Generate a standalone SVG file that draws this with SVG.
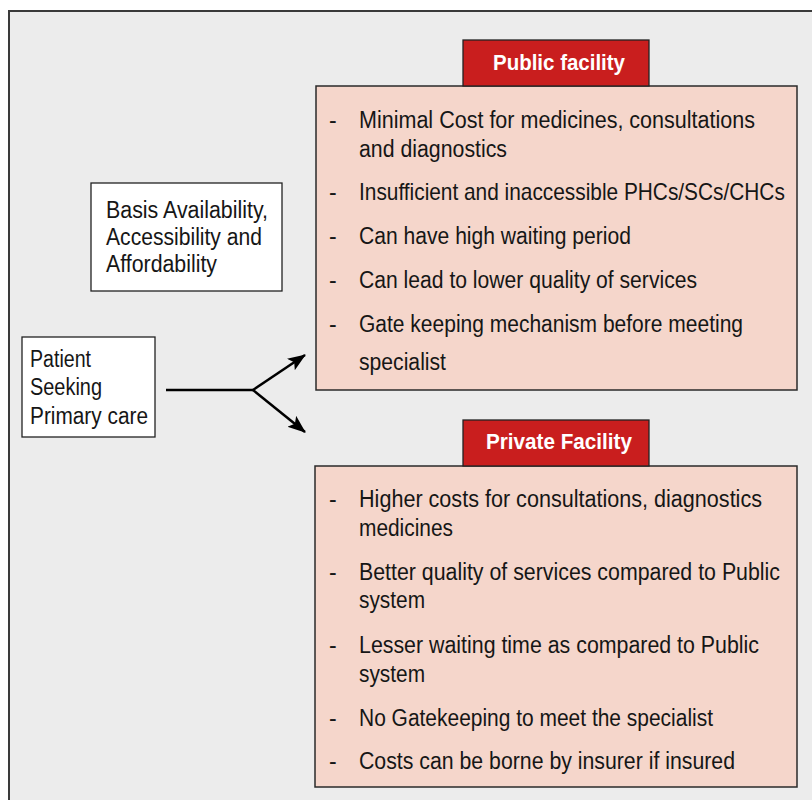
<svg xmlns="http://www.w3.org/2000/svg" width="812" height="800" viewBox="0 0 812 800">
<style>
.frame{fill:#ececec;stroke:#3a3a3a;stroke-width:2}
.wbox{fill:#ffffff;stroke:#222;stroke-width:1.3}
.pbox{fill:#f5d6cb;stroke:#2a2a2a;stroke-width:1.5}
.hdr{fill:#c91e1e;stroke:#222;stroke-width:1.3}
.t{font-family:"Liberation Sans",Arial,sans-serif;font-size:23px;fill:#161616}
.h{font-family:"Liberation Sans",Arial,sans-serif;font-size:22px;font-weight:bold;fill:#ffffff}
.conn{stroke:#000;stroke-width:2.5;fill:none}
</style>
<defs>
<marker id="ah" markerUnits="userSpaceOnUse" markerWidth="20" markerHeight="16" refX="17" refY="7" orient="auto">
<path d="M0,0 L18,7 L0,14 L4,7 Z" fill="#000"/>
</marker>
</defs>
<rect class="frame" x="9" y="11" width="820" height="810"/>

<g id="basis">
<rect class="wbox" x="91" y="183" width="191" height="108"/>
<text class="t" x="106" y="218" textLength="162" lengthAdjust="spacingAndGlyphs">Basis Availability,</text>
<text class="t" x="106" y="245" textLength="156" lengthAdjust="spacingAndGlyphs">Accessibility and</text>
<text class="t" x="106" y="272" textLength="111" lengthAdjust="spacingAndGlyphs">Affordability</text>
</g>

<g id="patient">
<rect class="wbox" x="22" y="337" width="133" height="100"/>
<text class="t" x="30" y="367" textLength="61" lengthAdjust="spacingAndGlyphs">Patient</text>
<text class="t" x="30" y="395" textLength="72" lengthAdjust="spacingAndGlyphs">Seeking</text>
<text class="t" x="30" y="424" textLength="118" lengthAdjust="spacingAndGlyphs">Primary care</text>
</g>

<g id="connectors">
<path class="conn" d="M166,390 L253,390"/>
<path class="conn" d="M253,390 L305,355" marker-end="url(#ah)"/>
<path class="conn" d="M253,390 L305,432" marker-end="url(#ah)"/>
</g>

<g id="public">
<rect class="pbox" x="316" y="86" width="481" height="304"/>
<rect class="hdr" x="463" y="40" width="186" height="46"/>
<text class="h" x="493" y="70" textLength="132" lengthAdjust="spacingAndGlyphs">Public facility</text>
<text class="t" x="329" y="128">-</text>
<text class="t" x="359" y="128" textLength="396" lengthAdjust="spacingAndGlyphs">Minimal Cost for medicines, consultations</text>
<text class="t" x="359" y="157" textLength="148" lengthAdjust="spacingAndGlyphs">and diagnostics</text>
<text class="t" x="329" y="200">-</text>
<text class="t" transform="matrix(0.85 0 0 1 359 200)" x="0" y="0" textLength="501" lengthAdjust="spacingAndGlyphs">Insufficient and inaccessible PHCs/SCs/CHCs</text>
<text class="t" x="329" y="244">-</text>
<text class="t" x="359" y="244" textLength="272" lengthAdjust="spacingAndGlyphs">Can have high waiting period</text>
<text class="t" x="329" y="288">-</text>
<text class="t" x="359" y="288" textLength="338" lengthAdjust="spacingAndGlyphs">Can lead to lower quality of services</text>
<text class="t" x="329" y="332">-</text>
<text class="t" x="359" y="332" textLength="384" lengthAdjust="spacingAndGlyphs">Gate keeping mechanism before meeting</text>
<text class="t" x="359" y="370" textLength="87" lengthAdjust="spacingAndGlyphs">specialist</text>
</g>

<g id="private">
<rect class="pbox" x="315" y="466" width="482" height="321"/>
<rect class="hdr" x="463" y="420" width="186" height="46"/>
<text class="h" x="486" y="449" textLength="146" lengthAdjust="spacingAndGlyphs">Private Facility</text>
<text class="t" x="329" y="507">-</text>
<text class="t" x="359" y="507" textLength="403" lengthAdjust="spacingAndGlyphs">Higher costs for consultations, diagnostics</text>
<text class="t" x="359" y="536" textLength="94" lengthAdjust="spacingAndGlyphs">medicines</text>
<text class="t" x="329" y="580">-</text>
<text class="t" x="359" y="580" textLength="421" lengthAdjust="spacingAndGlyphs">Better quality of services compared to Public</text>
<text class="t" x="359" y="608" textLength="66" lengthAdjust="spacingAndGlyphs">system</text>
<text class="t" x="329" y="653">-</text>
<text class="t" x="359" y="653" textLength="400" lengthAdjust="spacingAndGlyphs">Lesser waiting time as compared to Public</text>
<text class="t" x="359" y="682" textLength="66" lengthAdjust="spacingAndGlyphs">system</text>
<text class="t" x="329" y="726">-</text>
<text class="t" x="359" y="726" textLength="354" lengthAdjust="spacingAndGlyphs">No Gatekeeping to meet the specialist</text>
<text class="t" x="329" y="769">-</text>
<text class="t" x="359" y="769" textLength="376" lengthAdjust="spacingAndGlyphs">Costs can be borne by insurer if insured</text>
</g>
</svg>
